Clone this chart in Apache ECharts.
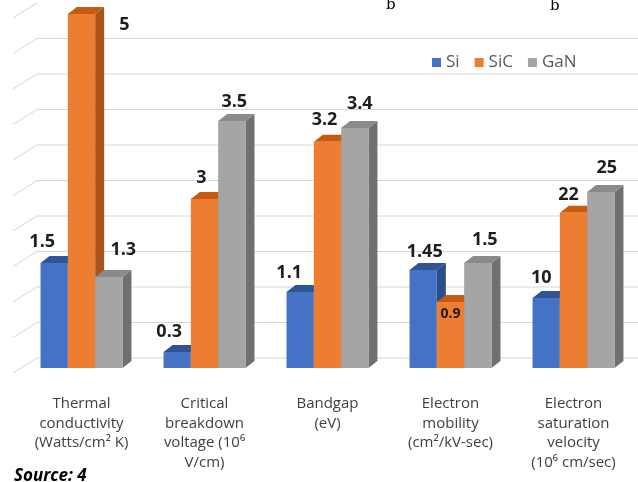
<!DOCTYPE html>
<html><head><meta charset="utf-8">
<script src="https://cdn.jsdelivr.net/npm/echarts@6/dist/echarts.min.js"></script>
<style>html,body{margin:0;padding:0;background:#fff}#c{width:638px;height:482px}</style>
</head><body><div id="c"></div>
<script>
// ---- data ----
const categories = [
  'Thermal\nconductivity\n(Watts/cm² K)',
  'Critical\nbreakdown\nvoltage (10⁶\nV/cm)',
  'Bandgap\n(eV)',
  'Electron\nmobility\n(cm²/kV-sec)',
  'Electron\nsaturation\nvelocity\n(10⁶ cm/sec)'
];
const seriesNames = ['Si', 'SiC', 'GaN'];
// printed value labels
const siLabels  = ['1.5', '0.3', '1.1', '1.45', '10'];
const sicLabels = ['5', '3', '3.2', '0.9', '22'];
const ganLabels = ['1.3', '3.5', '3.4', '1.5', '25'];
// drawn bar heights (chart units, one unit = one gridline step)
const siHeights  = [2.96, 0.45, 2.14, 2.76, 1.97];
const sicHeights = [9.97, 4.76, 6.37, 1.86, 4.37];
const ganHeights = [2.56, 6.96, 6.76, 2.96, 4.96];
// back-wall gridline values
const gridTicks = [0, 1, 2, 3, 4, 5, 6, 7, 8, 9, 10];

// ---- styles ----
const palette = {
  Si:  {front: '#4472C4', top: '#2F5597', side: '#2B4F8C'},
  SiC: {front: '#ED7D31', top: '#C55A11', side: '#A9531D'},
  GaN: {front: '#A5A5A5', top: '#8A8A8A', side: '#707070'}
};
// label nudges relative to bar top-centre [dx, dy, fontSize]
const labelShift = {
  Si:  [[-12, -21, 18], [-8, -20, 18], [-11, -19, 18], [1.5, -18, 18], [-5, -20, 18]],
  SiC: [[43, 11, 18], [-3, -21, 18], [-3, -22, 18], [0, 12, 14], [-5, -18, 18]],
  GaN: [[14.5, -27, 18], [2.5, -19, 18], [5, -24, 18], [7, -23, 18], [6, -24, 18]]
};
const DX = 9, DY = 7;

function barSeries(name, k, heights, labels) {
  const col = palette[name];
  const shifts = labelShift[name];
  return {
    type: 'custom', name: name,
    itemStyle: {color: col.front},
    data: heights.map((h, i) => [i, h]),
    encode: {x: 0, y: 1},
    renderItem: function (params, api) {
      const i = api.value(0);
      const top = api.coord([i, api.value(1)]);
      const base = api.coord([i, 0]);
      const band = api.size([1, 0])[0];
      const w = band * 0.222;
      const cx = top[0] + (k - 1) * w;
      const x0 = cx - w / 2, x1 = cx + w / 2, yt = top[1], yb = base[1];
      const s = shifts[params.dataIndex];
      return {
        type: 'group',
        children: [
          {type: 'polygon', shape: {points: [[x1, yt], [x1 + DX, yt - DY], [x1 + DX, yb - DY], [x1, yb]]}, style: {fill: col.side}},
          {type: 'polygon', shape: {points: [[x0, yt], [x1, yt], [x1 + DX, yt - DY], [x0 + DX, yt - DY]]}, style: {fill: col.top}},
          {type: 'rect', shape: {x: x0, y: yt, width: w, height: yb - yt}, style: {fill: col.front}},
          {type: 'text', z2: 10, style: {
            text: labels[params.dataIndex], x: cx + s[0], y: yt + s[1],
            align: 'center', verticalAlign: 'middle',
            font: 'bold ' + s[2] + 'px "Open Sans"', fill: '#1E1E1E'
          }}
        ]
      };
    }
  };
}

const wallSeries = {
  type: 'custom', name: 'wall', silent: true,
  data: gridTicks.map(v => [0, v]),
  encode: {x: 0, y: 1},
  renderItem: function (params, api) {
    const cs = params.coordSys;
    const v = api.value(1);
    const y = api.coord([0, v])[1] - 10;
    const xl = cs.x + 17;
    const children = [
      {type: 'line', shape: {x1: xl, y1: y, x2: cs.x - 7, y2: y + 15}, style: {stroke: '#D6D6D6', lineWidth: 1}}
    ];
    if (v < gridTicks[gridTicks.length - 1]) {
      children.push({type: 'line', shape: {x1: xl, y1: y, x2: cs.x + cs.width + 3, y2: y}, style: {stroke: '#D6D6D6', lineWidth: 1}});
    }
    return {type: 'group', children: children};
  }
};

const chart = echarts.init(document.getElementById('c'), null, {renderer: 'canvas'});
chart.setOption({
  animation: false,
  backgroundColor: '#fff',
  grid: {left: 20, right: 3, top: 13, bottom: 114},
  legend: {
    data: seriesNames, left: 427, top: 49, icon: 'rect',
    itemWidth: 9, itemHeight: 9, itemGap: 15,
    textStyle: {color: '#595959', fontSize: 17, fontFamily: 'Open Sans'}
  },
  xAxis: {
    type: 'category', data: categories,
    axisLine: {show: false}, axisTick: {show: false}, splitLine: {show: false},
    axisLabel: {interval: 0, margin: 26, color: '#404040', fontSize: 15, lineHeight: 19.5, fontFamily: 'Open Sans'}
  },
  yAxis: {
    type: 'value', min: 0, max: 10, interval: 1,
    axisLine: {show: false}, axisTick: {show: false}, axisLabel: {show: false}, splitLine: {show: false}
  },
  graphic: [
    {type: 'text', left: 14, top: 468, style: {text: 'Source: 4', font: 'italic bold 17px "Open Sans"', fill: '#000'}},
    {type: 'text', left: 386, top: -2, style: {text: 'b', font: '15px "DejaVu Serif"', fill: '#000'}},
    {type: 'text', left: 550, top: -1, style: {text: 'b', font: '15px "DejaVu Serif"', fill: '#000'}}
  ],
  series: [
    wallSeries,
    barSeries('Si', 0, siHeights, siLabels),
    barSeries('SiC', 1, sicHeights, sicLabels),
    barSeries('GaN', 2, ganHeights, ganLabels)
  ]
});
</script>
</body></html>
